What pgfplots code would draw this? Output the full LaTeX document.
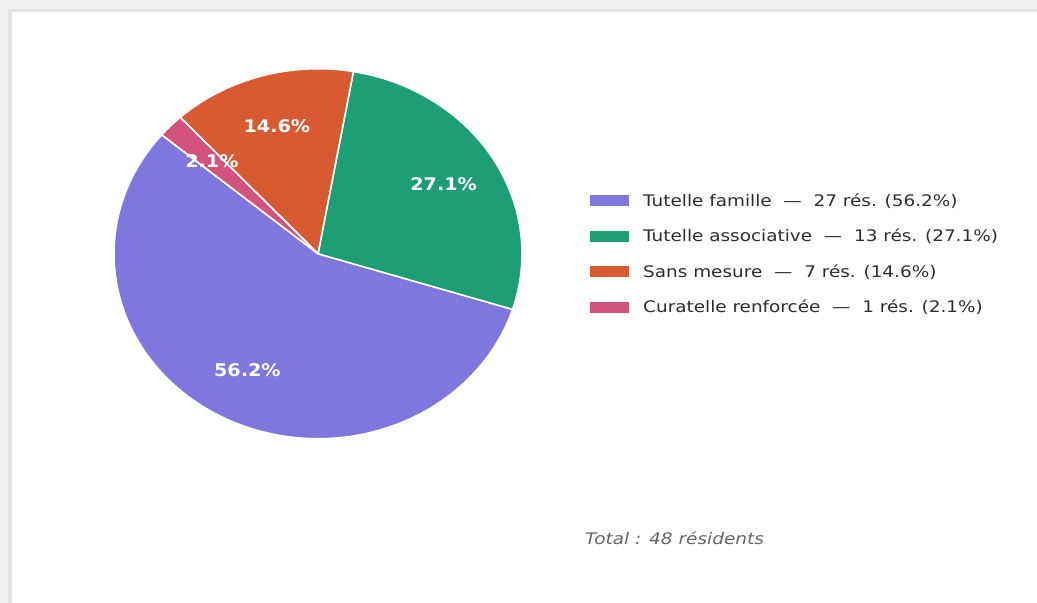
\documentclass[border=0pt]{standalone}
\usepackage{pgfplots}
\usepackage{pgfplotstable}
\pgfplotsset{compat=1.18}
\usetikzlibrary{calc}
\usepackage{fontspec}
\setmainfont{DejaVu Sans}

\definecolor{cfam}{HTML}{7F77DD}
\definecolor{cass}{HTML}{1D9E75}
\definecolor{csans}{HTML}{D85A30}
\definecolor{ccur}{HTML}{D4537E}
\definecolor{bandgray}{HTML}{F0F0F0}
\definecolor{bandline}{HTML}{E4E4E4}

% counts per measure, percent as printed on the chart
\pgfplotstableread[col sep=comma]{
name,count,pct,col
Tutelle famille,27,56.2,cfam
Tutelle associative,13,27.1,cass
Sans mesure,7,14.6,csans
Curatelle renforcée,1,2.1,ccur
}\pietable

\begin{document}
\begin{tikzpicture}
\begin{axis}[
  x=1bp, y=1bp,
  xmin=0, xmax=1037, ymin=0, ymax=603,
  hide axis, clip=false,
]
% page background and screenshot frame
\fill[white] (axis cs:0,0) rectangle (axis cs:1037,603);
\fill[bandgray] (axis cs:0,591) rectangle (axis cs:1037,603);
\fill[bandgray] (axis cs:0,0) rectangle (axis cs:12,603);
\fill[bandline] (axis cs:8,0) rectangle (axis cs:12,591);
\fill[bandline] (axis cs:8,591) rectangle (axis cs:1037,594);

\def\astart{140}
\pgfplotsforeachungrouped \i in {0,...,3}{
  \pgfplotstablegetelem{\i}{count}\of\pietable \let\cnt\pgfplotsretval
  \pgfplotstablegetelem{\i}{pct}\of\pietable \let\pct\pgfplotsretval
  \pgfplotstablegetelem{\i}{col}\of\pietable \let\col\pgfplotsretval
  \pgfplotstablegetelem{\i}{name}\of\pietable \let\nm\pgfplotsretval
  \pgfmathsetmacro\aend{\astart+360*\cnt/48}
  \pgfmathsetmacro\amid{(\astart+\aend)/2}
  \pgfmathsetmacro\ly{402-35.5*\i}
  \edef\cmd{%
    \noexpand\fill[\col, draw=white, line width=1.6bp, line join=round]
      (axis cs:318,349.25) -- ++(\astart:204bp and 185bp)
      arc[start angle=\astart, end angle=\aend, x radius=204bp, y radius=185bp] -- cycle;
    \noexpand\fill[\col] (axis cs:590,\ly-5.5) rectangle (axis cs:629,\ly+5.5);
    \noexpand\node[anchor=west, xscale=1.155, font=\noexpand\fontsize{16}{18}\noexpand\selectfont, text=black!82, inner sep=0pt]
      at (axis cs:643,\ly) {\nm\noexpand\hspace{0.64em}—\noexpand\hspace{0.64em}\cnt\ rés. (\pct\noexpand\%)};
  }
  \cmd
  \expandafter\xdef\csname amid\i\endcsname{\amid}
  \expandafter\xdef\csname pct\i\endcsname{\pct}
  \let\astart\aend
}
% percentage labels drawn on top of all wedges
\pgfplotsforeachungrouped \i in {0,...,3}{
  \edef\cmd{%
    \noexpand\node[text=white, xscale=1.1, font=\noexpand\fontsize{17.5}{20}\noexpand\bfseries, inner sep=0pt]
      at ($(axis cs:318,349.25)+(\csname amid\i\endcsname:146.9bp and 133.2bp)$) {\csname pct\i\endcsname\noexpand\%};
  }
  \cmd
}
\node[anchor=west, xscale=1.16, text=black!60, font=\fontsize{16}{18}\selectfont\itshape, inner sep=0pt]
  at (axis cs:585,65) {Total : 48 résidents};
\end{axis}
\end{tikzpicture}
\end{document}
